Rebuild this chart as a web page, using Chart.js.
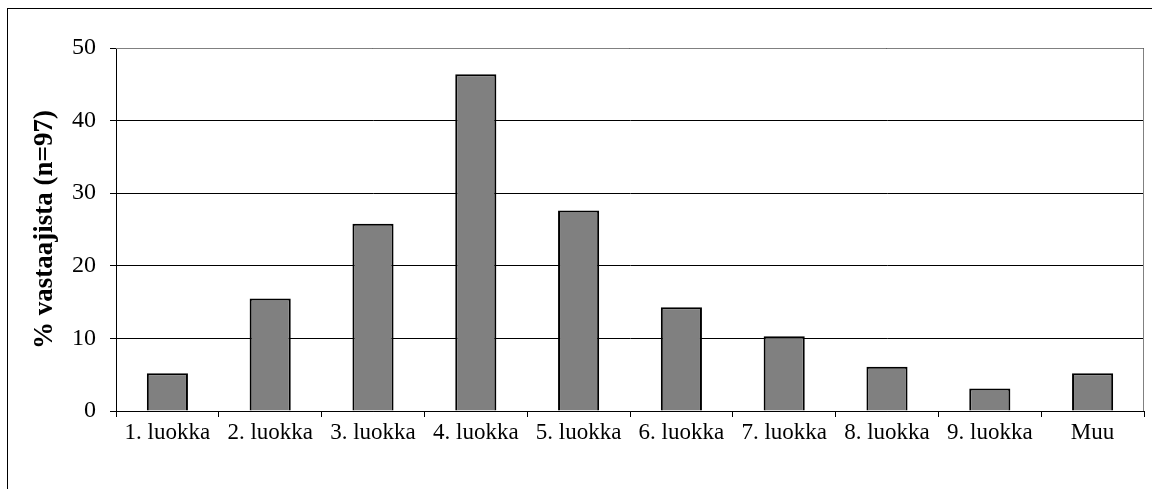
<!DOCTYPE html>
<html>
<head>
<meta charset="utf-8">
<script src="https://cdn.jsdelivr.net/npm/chart.js@4"></script>
<style>
  body { margin: 0; background: #fff; }
</style>
</head>
<body>
<canvas id="luokkaChart" width="1152" height="489"></canvas>
<script>
// luokka-aste, jolla vastaajat ovat
var categories = ["1. luokka", "2. luokka", "3. luokka", "4. luokka", "5. luokka",
  "6. luokka", "7. luokka", "8. luokka", "9. luokka", "Muu"];
var percentValues = [5.2, 15.5, 25.8, 46.4, 27.6, 14.3, 10.3, 6.1, 3.1, 5.2];
var yTicks = [0, 10, 20, 30, 40, 50];

var serif = "'Liberation Serif', 'Times New Roman', serif";

// outer frame + grey plot border (top/right)
var framePlugin = {
  id: "frame",
  afterDraw: function (chart) {
    var ctx = chart.ctx;
    var a = chart.chartArea;
    ctx.save();
    ctx.strokeStyle = "#000";
    ctx.lineWidth = 1;
    ctx.strokeRect(7.5, 8.5, 1300, 700);
    ctx.strokeStyle = "#808080";
    ctx.beginPath();
    ctx.moveTo(a.left, a.top + 0.5);
    ctx.lineTo(a.right - 0.5, a.top + 0.5);
    ctx.lineTo(a.right - 0.5, a.bottom);
    ctx.stroke();
    ctx.restore();
  }
};

var ctx = document.getElementById("luokkaChart").getContext("2d");
var luokkaChart = new Chart(ctx, {
  type: "bar",
  data: {
    labels: categories,
    datasets: [{
      label: "% vastaajista",
      data: percentValues,
      backgroundColor: "#808080",
      borderColor: "#000",
      borderWidth: 2,
      barPercentage: 0.4,
      categoryPercentage: 1
    }]
  },
  options: {
    responsive: false,
    animation: false,
    layout: { padding: { top: 48, right: 8, left: 0, bottom: 0 } },
    plugins: {
      legend: { display: false },
      tooltip: { enabled: false }
    },
    scales: {
      x: {
        offset: true,
        grid: {
          offset: true,
          drawOnChartArea: false,
          drawTicks: true,
          tickLength: 6,
          color: "#000"
        },
        border: { color: "#000", width: 1 },
        ticks: {
          autoSkip: false,
          maxRotation: 0,
          minRotation: 0,
          padding: 2,
          color: "#000",
          font: { family: serif, size: 23 }
        },
        afterFit: function (s) { s.height = 78; }
      },
      y: {
        min: 0,
        max: 50,
        afterBuildTicks: function (s) {
          s.ticks = yTicks.map(function (v) { return { value: v }; });
        },
        grid: {
          color: "#000",
          tickLength: 6,
          drawTicks: true
        },
        border: { color: "#000", width: 1 },
        ticks: {
          padding: 14,
          color: "#000",
          font: { family: serif, size: 24 }
        },
        title: {
          display: true,
          text: "% vastaajista (n=97)",
          color: "#000",
          padding: { top: 29, bottom: 0 },
          font: { family: serif, size: 27, weight: "bold" }
        },
        afterFit: function (s) { s.width = 116; }
      }
    }
  },
  plugins: [framePlugin]
});
</script>
</body>
</html>
